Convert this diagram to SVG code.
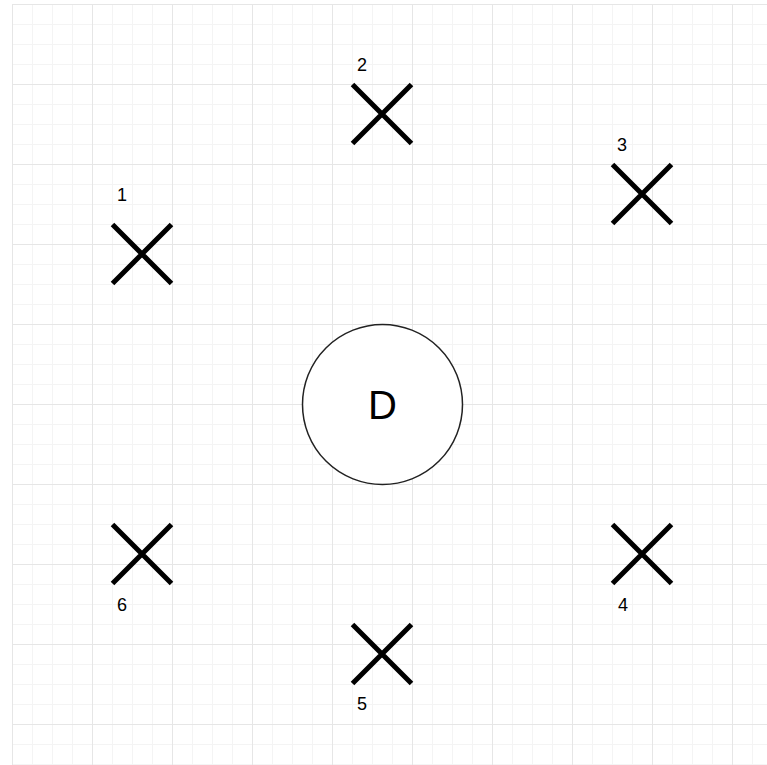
<svg xmlns="http://www.w3.org/2000/svg" width="767" height="765" viewBox="0 0 767 765">
  <defs>
    <pattern id="minor" x="12" y="4" width="20" height="20" patternUnits="userSpaceOnUse">
      <path d="M0.5 0V20M0 0.5H20" fill="none" stroke="#f4f4f4" stroke-width="1"/>
    </pattern>
    <pattern id="major" x="12" y="4" width="80" height="80" patternUnits="userSpaceOnUse">
      <path d="M0.5 0V80M0 0.5H80" fill="none" stroke="#e6e6e6" stroke-width="1"/>
    </pattern>
  </defs>
  <style>
    .x { stroke: #000; stroke-width: 5; fill: none; }
    .lbl { font-family: "Liberation Sans", Arial, sans-serif; font-size: 18px; fill: #000; text-anchor: middle; }
    .big { font-family: "Liberation Sans", Arial, sans-serif; font-size: 40px; fill: #000; text-anchor: middle; }
  </style>
  <rect width="767" height="765" fill="#fff"/>
  <rect x="12" y="4" width="755" height="761" fill="url(#minor)"/>
  <rect x="12" y="4" width="755" height="761" fill="url(#major)"/>

  <g id="D">
    <circle cx="382.5" cy="404.5" r="80" fill="#fff" stroke="#222" stroke-width="1.5"/>
    <text class="big" x="382.5" y="419">D</text>
  </g>
  <g id="n1">
    <path class="x" d="M112.5 224.5L171.5 283.5M171.5 224.5L112.5 283.5"/>
    <text class="lbl" x="122" y="201">1</text>
  </g>
  <g id="n2">
    <path class="x" d="M352.5 84.5L411.5 143.5M411.5 84.5L352.5 143.5"/>
    <text class="lbl" x="362" y="71">2</text>
  </g>
  <g id="n3">
    <path class="x" d="M612.5 164.5L671.5 223.5M671.5 164.5L612.5 223.5"/>
    <text class="lbl" x="622" y="151">3</text>
  </g>
  <g id="n4">
    <path class="x" d="M612.5 524.5L671.5 583.5M671.5 524.5L612.5 583.5"/>
    <text class="lbl" x="623" y="611">4</text>
  </g>
  <g id="n5">
    <path class="x" d="M352.5 624.5L411.5 683.5M411.5 624.5L352.5 683.5"/>
    <text class="lbl" x="362" y="710">5</text>
  </g>
  <g id="n6">
    <path class="x" d="M112.5 524.5L171.5 583.5M171.5 524.5L112.5 583.5"/>
    <text class="lbl" x="122" y="611">6</text>
  </g>
  <g id="connectors"/>
</svg>
